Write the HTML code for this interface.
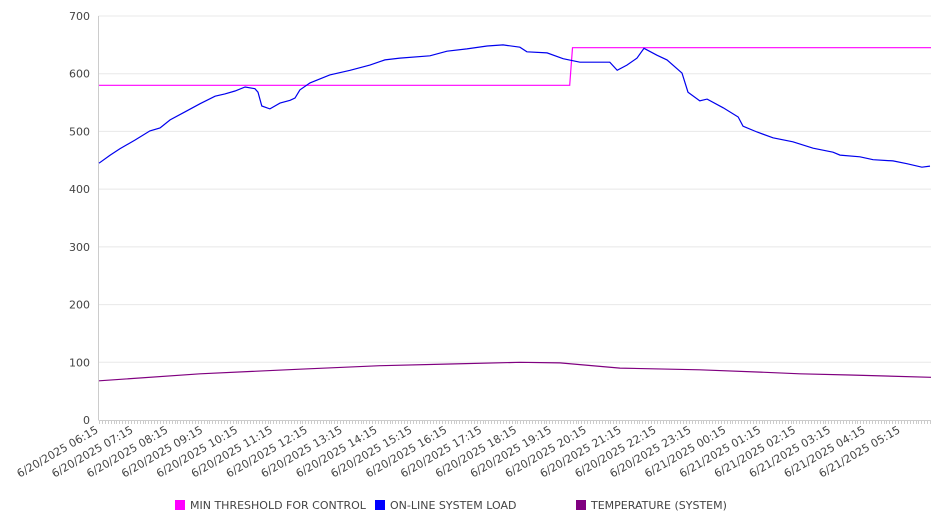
<!DOCTYPE html>
<html><head><meta charset="utf-8"><style>
html,body{margin:0;padding:0;background:#fff;width:946px;height:526px;overflow:hidden}
svg{display:block;font-family:"DejaVu Sans","Liberation Sans",sans-serif}
</style></head><body>
<svg id="chart" width="946" height="526"></svg>
<script>
const yTicks=[0,100,200,300,400,500,600,700];
const xTickLabels=["6/20/2025 06:15","6/20/2025 07:15","6/20/2025 08:15","6/20/2025 09:15","6/20/2025 10:15","6/20/2025 11:15","6/20/2025 12:15","6/20/2025 13:15","6/20/2025 14:15","6/20/2025 15:15","6/20/2025 16:15","6/20/2025 17:15","6/20/2025 18:15","6/20/2025 19:15","6/20/2025 20:15","6/20/2025 21:15","6/20/2025 22:15","6/20/2025 23:15","6/21/2025 00:15","6/21/2025 01:15","6/21/2025 02:15","6/21/2025 03:15","6/21/2025 04:15","6/21/2025 05:15"];
const loadHours=[0,0.32,0.6,1.03,1.46,1.75,2.04,2.47,2.9,3.33,3.61,3.9,4.19,4.47,4.56,4.67,4.9,5.19,5.48,5.62,5.76,6.05,6.62,7.2,7.77,8.2,8.63,9.49,9.98,10.55,11.13,11.59,12.07,12.27,12.85,13.31,13.79,14.28,14.65,14.86,15.14,15.43,15.63,16.0,16.29,16.72,16.89,17.23,17.44,17.9,18.33,18.47,18.87,19.33,19.9,20.48,21.05,21.25,21.82,22.2,22.77,23.17,23.6,23.83];
const loadValues=[445,459,470,485,501,506,520,534,548,561,565,570,577,574,568,544,539,549,554,558,572,584,598,606,615,624,627,631,639,643,648,650,646,638,636,626,620,620,620,606,615,627,644,632,624,601,568,553,556,541,525,509,499,489,482,471,464,459,456,451,449,444,438,440];
const thresholdHours=[0,13.5,13.58,23.86];
const thresholdValues=[580,580,645,645];
const tempHours=[0,2.9,5.76,8.06,10.07,12.07,13.22,14.94,17.23,18.96,20.1,21.53,23.86];
const tempValues=[68,80,88,94,97,100,99,90,87,83,80,78,74];

const NS="http://www.w3.org/2000/svg";
const svg=document.getElementById("chart");
const X0=98.5,X1=931,PXH=34.87,Y0=420,Y1=16,YMAX=700;
const xs=h=>X0+0.5+h*PXH;
const ys=v=>Y0-(v/YMAX)*(Y0-Y1);
function mk(tag,attrs,parent){const e=document.createElementNS(NS,tag);for(const k in attrs)e.setAttribute(k,attrs[k]);(parent||svg).appendChild(e);return e;}

const grid=mk("g",{});


yTicks.forEach(v=>{
  if(v>0){const l=mk("line",{x1:X0,x2:X1,y1:ys(v),y2:ys(v),stroke:"#e8e8e8","stroke-width":1},grid);
  
  }
  const t=mk("text",{x:90,y:ys(v)+4,"text-anchor":"end","font-size":11,fill:"#444"});
  t.textContent=v;
  
  
});
const yAxis=mk("line",{x1:X0,x2:X0,y1:Y1,y2:Y0,stroke:"#ccc"});


const xAxis=mk("line",{x1:X0,x2:X1,y1:Y0+0.5,y2:Y0+0.5,stroke:"#ccc"});


const minor=mk("g",{stroke:"#ccc"});


for(let m=0;m*5/60<=23.86;m++){const x=Math.round(xs(m*5/60))+0.5;mk("line",{x1:x,x2:x,y1:Y0,y2:Y0+4},minor);}
xTickLabels.forEach((lab,i)=>{
  const x=xs(i);
  const t=mk("text",{x:x,y:Y0+12,"text-anchor":"end","font-size":11,fill:"#444",transform:`rotate(-30 ${x} ${Y0+12})`});
  t.textContent=lab;
  
  
});
function line(hs,vs,color,name){
  const d=hs.map((h,i)=>(i?"L":"M")+xs(h).toFixed(1)+","+ys(vs[i]).toFixed(1)).join("");
  const p=mk("path",{d:d,fill:"none",stroke:color,"stroke-width":1.2});
  
  
}
line(tempHours,tempValues,"#800080","temperature-line");
line(thresholdHours,thresholdValues,"#ff00ff","min-threshold-line");
line(loadHours,loadValues,"#0000ee","online-system-load-line");

const legend=[["MIN THRESHOLD FOR CONTROL","#ff00ff",175],["ON-LINE SYSTEM LOAD","#0000ff",375],["TEMPERATURE (SYSTEM)","#800080",576]];
legend.forEach(([lab,c,x])=>{
  const g=mk("g",{});
  
  
  mk("rect",{x:x,y:500,width:10,height:10,fill:c},g);
  const t=mk("text",{x:x+15,y:509,"font-size":11,fill:"#444"},g);
  t.textContent=lab;
});
</script>
</body></html>
